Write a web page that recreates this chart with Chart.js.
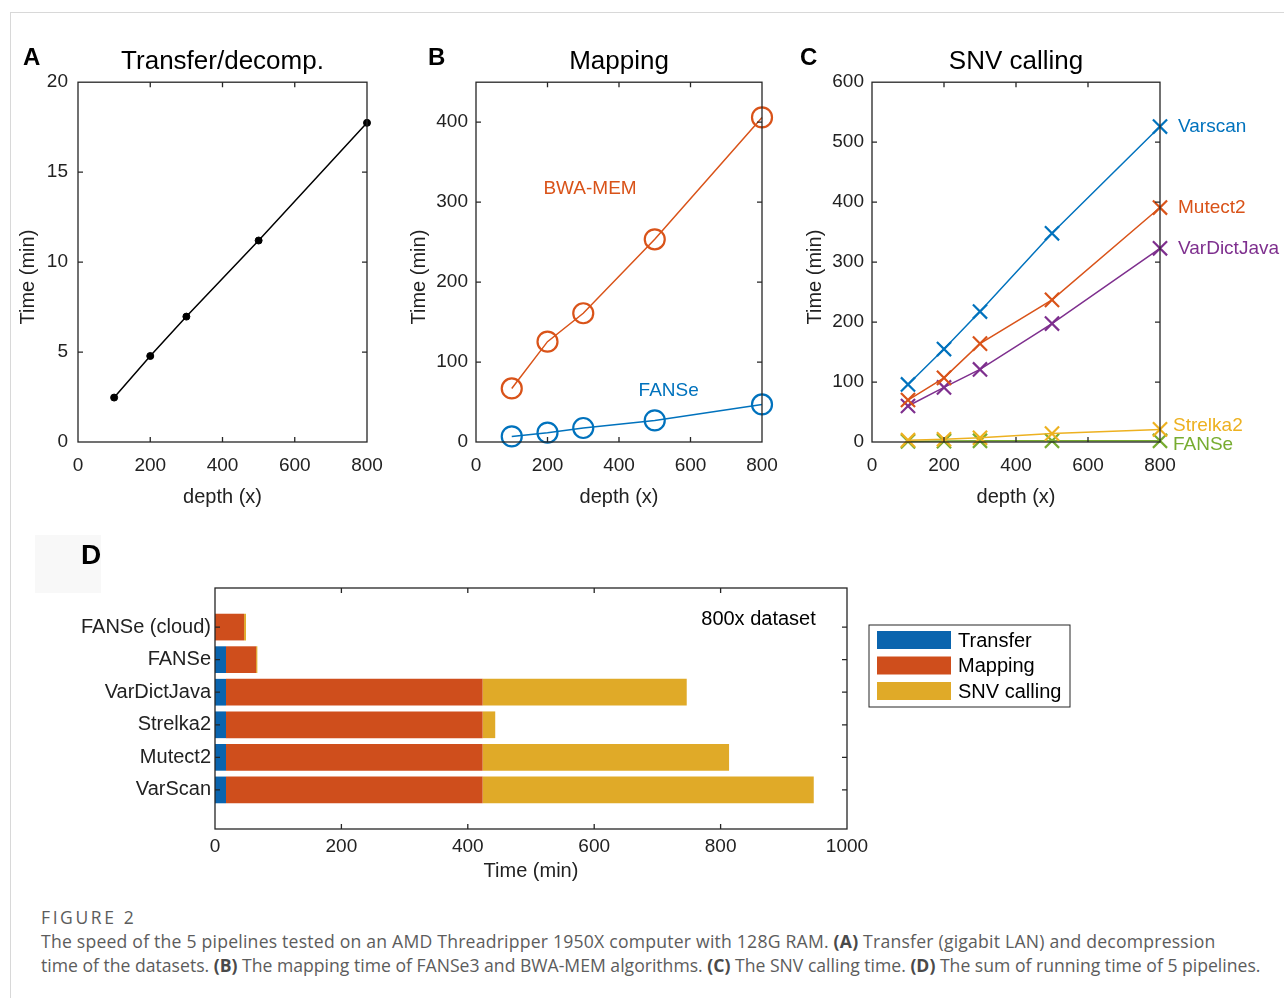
<!DOCTYPE html>
<html>
<head>
<meta charset="utf-8">
<script src="https://cdn.jsdelivr.net/npm/chart.js@4.4.1/dist/chart.umd.min.js"></script>
<style>
  html, body { margin: 0; padding: 0; background: #fff; }
  body { width: 1284px; height: 998px; position: relative; overflow: hidden; font-family: "Liberation Sans", Arial, sans-serif; }
  .frame { position: absolute; left: 10px; top: 12px; width: 1300px; height: 1000px; border-left: 1px solid #d8d8d8; border-top: 1px solid #d8d8d8; }
  .panel { position: absolute; }
  .letter { position: absolute; font-weight: bold; font-size: 24px; line-height: 1; color: #000; }
  .dbox { position: absolute; left: 35px; top: 535px; width: 66px; height: 58px; background: #f8f8f8; }
  .cap { position: absolute; left: 41px; font-family: "Open Sans", sans-serif; font-size: 17.6px; color: #5c5c5c; white-space: nowrap; line-height: 1; }
  .cap b { color: #4a4a4a; }
  .cap.head { font-size: 17.5px; letter-spacing: 2.6px; }
</style>
</head>
<body>
<div class="frame"></div>
<div class="dbox"></div>

<div class="panel" style="left:0px; top:30px; width:400px; height:500px;"><canvas id="chartA"></canvas></div>
<div class="panel" style="left:400px; top:30px; width:400px; height:500px;"><canvas id="chartB"></canvas></div>
<div class="panel" style="left:790px; top:30px; width:494px; height:500px;"><canvas id="chartC"></canvas></div>
<div class="panel" style="left:30px; top:540px; width:1060px; height:360px;"><canvas id="chartD"></canvas></div>

<div class="letter" style="left:23px; top:45px;">A</div>
<div class="letter" style="left:428px; top:45px;">B</div>
<div class="letter" style="left:800px; top:45px;">C</div>
<div class="letter" style="left:81px; top:541px; font-size:28px;">D</div>

<div class="cap head" style="top:909px;">FIGURE 2</div>
<div class="cap" style="top:933px; letter-spacing:0.22px;">The speed of the 5 pipelines tested on an AMD Threadripper 1950X computer with 128G RAM. <b>(A)</b> Transfer (gigabit LAN) and decompression</div>
<div class="cap" style="top:957px;">time of the datasets. <b>(B)</b> The mapping time of FANSe3 and BWA-MEM algorithms. <b>(C)</b> The SNV calling time. <b>(D)</b> The sum of running time of 5 pipelines.</div>

<script>
// depth of the test datasets (x)
const depths = [100, 200, 300, 500, 800];

// A: transfer + decompression (min)
const transferMin = [2.47, 4.78, 6.97, 11.2, 17.74];

// B: mapping (min)
const bwaMem = [67, 125.5, 161, 253.5, 406];
const fanseMap = [7, 11.7, 17.5, 27, 47];

// C: SNV calling (min)
const snvNames = ['Varscan', 'Mutect2', 'VarDictJava', 'Strelka2', 'FANSe'];
const varscan = [96, 155, 217.5, 348, 526];
const mutect2 = [70, 107, 164, 237, 391];
const varDictJava = [60, 91, 121, 197.5, 323];
const strelka2 = [3, 4.5, 7, 14, 21];
const fanseSnv = [1, 1.5, 2, 2, 2];
const snvLabelAt = [525, 391, 322, 27, -4];

// D: 800x dataset totals (min)
const pipelines = ['FANSe (cloud)', 'FANSe', 'VarDictJava', 'Strelka2', 'Mutect2', 'VarScan'];
const stageNames = ['Transfer', 'Mapping', 'SNV calling'];
const transferTime = [0, 17.4, 17.4, 17.4, 17.4, 17.4];
const mappingTime = [46, 47.6, 406, 406, 406, 406];
const snvTime = [3, 2, 323, 20, 390, 524];

const FONT = '"Liberation Sans", Arial, sans-serif';
const INK = '#222';
const BLUE = '#0072BD', ORANGE = '#D95319', YELLOW = '#EDB120', PURPLE = '#7E2F8E', GREEN = '#77AC30';

const pts = ys => depths.map((d, i) => ({ x: d, y: ys[i] }));

// matlab style box with inward ticks on all four sides
const boxFrame = {
  id: 'boxFrame',
  afterDraw(chart) {
    const { ctx, chartArea: a, scales } = chart;
    const len = 5;
    ctx.save();
    ctx.strokeStyle = '#262626';
    ctx.lineWidth = 1.3;
    ctx.strokeRect(a.left, a.top, a.right - a.left, a.bottom - a.top);
    ctx.beginPath();
    scales.x.ticks.forEach(t => {
      const px = scales.x.getPixelForValue(t.value);
      if (px <= a.left + 1 || px >= a.right - 1) return;
      ctx.moveTo(px, a.bottom); ctx.lineTo(px, a.bottom - len);
      ctx.moveTo(px, a.top); ctx.lineTo(px, a.top + len);
    });
    scales.y.ticks.forEach(t => {
      const py = scales.y.getPixelForValue(t.value);
      if (py <= a.top + 1 || py >= a.bottom - 1) return;
      ctx.moveTo(a.left, py); ctx.lineTo(a.left + len, py);
      ctx.moveTo(a.right, py); ctx.lineTo(a.right - len, py);
    });
    ctx.stroke();
    ctx.restore();
  }
};

// coloured text placed in data coordinates + the rotated y title
const seriesLabels = {
  id: 'seriesLabels',
  afterDatasetsDraw(chart, args, opts) {
    const { ctx, chartArea: a, scales: { x, y } } = chart;
    ctx.save();
    if (opts.yTitle) {
      ctx.font = '20px ' + FONT;
      ctx.fillStyle = INK;
      ctx.textAlign = 'center';
      ctx.textBaseline = 'middle';
      ctx.translate(opts.yTitleX, (a.top + a.bottom) / 2 + 15);
      ctx.rotate(-Math.PI / 2);
      ctx.fillText(opts.yTitle, 0, 0);
      ctx.setTransform(1, 0, 0, 1, 0, 0);
      ctx.scale(chart.currentDevicePixelRatio, chart.currentDevicePixelRatio);
    }
    ctx.font = opts.font;
    ctx.textBaseline = 'middle';
    (opts.items || []).forEach(it => {
      ctx.fillStyle = it.color;
      ctx.textAlign = it.align || 'left';
      ctx.fillText(it.text, x.getPixelForValue(it.x) + (it.dx || 0), y.getPixelForValue(it.y));
    });
    ctx.restore();
  }
};

function lineOptions(cfg) {
  return {
    responsive: true,
    maintainAspectRatio: false,
    animation: false,
    layout: { padding: { top: 0, right: cfg.padRight, bottom: 18, left: 0 } },
    plugins: {
      legend: { display: false },
      tooltip: { enabled: false },
      title: { display: true, text: cfg.title, fullSize: false, color: '#000', font: { family: FONT, size: 26, weight: 'normal' }, padding: { top: 16, bottom: 5 } },
      seriesLabels: { font: '19px ' + FONT, items: cfg.labels || [], yTitle: 'Time (min)', yTitleX: cfg.yTitleX }
    },
    scales: {
      x: {
        type: 'linear', min: 0, max: 800,
        grid: { display: false, drawTicks: false }, border: { display: false },
        ticks: { stepSize: 200, color: INK, font: { family: FONT, size: 19 }, padding: 12, maxRotation: 0 },
        title: { display: true, text: 'depth (x)', color: INK, font: { family: FONT, size: 20 }, padding: { top: 0, bottom: 3 } },
        afterFit: s => { s.height = 70; }
      },
      y: {
        type: 'linear', min: cfg.yMin, max: cfg.yMax,
        grid: { display: false, drawTicks: false }, border: { display: false },
        ticks: { stepSize: cfg.yStep, includeBounds: false, color: INK, font: { family: FONT, size: 19 }, padding: cfg.tickPad },
        afterFit: s => { s.width = cfg.axisWidth; }
      }
    }
  };
}

Chart.register(boxFrame, seriesLabels);

new Chart(document.getElementById('chartA'), {
  type: 'line',
  data: {
    datasets: [{
      data: pts(transferMin), borderColor: '#000', borderWidth: 1.5,
      pointRadius: 3.5, pointBackgroundColor: '#000', pointBorderColor: '#000', pointBorderWidth: 1, clip: false
    }]
  },
  options: lineOptions({ title: 'Transfer/decomp.', yMin: 0, yMax: 20, yStep: 5, axisWidth: 78, padRight: 33, tickPad: 10, yTitleX: 28 })
});

new Chart(document.getElementById('chartB'), {
  type: 'line',
  data: {
    datasets: [
      { data: pts(bwaMem), borderColor: ORANGE, borderWidth: 1.5, pointRadius: 10, pointBorderWidth: 2.2, pointBorderColor: ORANGE, pointBackgroundColor: 'rgba(0,0,0,0)', clip: false },
      { data: pts(fanseMap), borderColor: BLUE, borderWidth: 1.5, pointRadius: 10, pointBorderWidth: 2.2, pointBorderColor: BLUE, pointBackgroundColor: 'rgba(0,0,0,0)', clip: false }
    ]
  },
  options: lineOptions({
    title: 'Mapping', yMin: 0, yMax: 450, yStep: 100, axisWidth: 76, padRight: 38, tickPad: 8, yTitleX: 19,
    labels: [
      { text: 'BWA-MEM', x: 319, y: 317, color: ORANGE, align: 'center' },
      { text: 'FANSe', x: 539, y: 63.5, color: BLUE, align: 'center' }
    ]
  })
});

const snvSeries = [varscan, mutect2, varDictJava, strelka2, fanseSnv];
const snvColors = [BLUE, ORANGE, PURPLE, YELLOW, GREEN];
const snvDx = [18, 18, 18, 13, 13];

new Chart(document.getElementById('chartC'), {
  type: 'line',
  data: {
    datasets: snvSeries.map((s, k) => ({
      data: pts(s), borderColor: snvColors[k], borderWidth: 1.5,
      pointStyle: 'crossRot', pointRadius: 10, pointBorderWidth: 2.2, pointBorderColor: snvColors[k], clip: false
    }))
  },
  options: lineOptions({
    title: 'SNV calling', yMin: 0, yMax: 600, yStep: 100, axisWidth: 82, padRight: 124, tickPad: 8, yTitleX: 25,
    labels: snvNames.map((n, k) => ({ text: n, x: 800, dx: snvDx[k], y: snvLabelAt[k], color: snvColors[k] }))
  })
});

// D: legend with a box around it, drawn in the chart's canvas
const boxLegend = {
  id: 'boxLegend',
  afterDraw(chart, args, o) {
    if (!o.show) return;
    const { ctx, chartArea: a, scales: { x, y } } = chart;
    ctx.save();
    ctx.font = '20px ' + FONT;
    ctx.fillStyle = '#000';
    ctx.textBaseline = 'middle';
    ctx.textAlign = 'center';
    ctx.fillText(o.note, x.getPixelForValue(o.noteX), y.getPixelForValue(o.noteY));

    const left = a.right + 22, top = a.top + 37;
    ctx.strokeStyle = '#262626';
    ctx.lineWidth = 1;
    ctx.strokeRect(left, top, 201, 82);
    ctx.textAlign = 'left';
    chart.data.datasets.forEach((ds, i) => {
      const cy = top + 15 + i * 25.5;
      ctx.fillStyle = ds.backgroundColor;
      ctx.fillRect(left + 8, cy - 9, 74, 18);
      ctx.fillStyle = '#000';
      ctx.fillText(ds.label, left + 89, cy + 1);
    });
    ctx.restore();
  }
};

const stageTimes = [transferTime, mappingTime, snvTime];
const stageColors = ['#0A64AE', '#CF4E1C', '#E0AA28'];

new Chart(document.getElementById('chartD'), {
  type: 'bar',
  plugins: [boxLegend],
  data: {
    datasets: stageNames.map((name, k) => ({
      label: name,
      data: stageTimes[k].map((v, i) => ({ x: v, y: i })),
      backgroundColor: stageColors[k],
      barPercentage: 0.82,
      categoryPercentage: 1
    }))
  },
  options: {
    indexAxis: 'y',
    responsive: true,
    maintainAspectRatio: false,
    animation: false,
    layout: { padding: { top: 48, right: 243, bottom: 11, left: 0 } },
    plugins: {
      legend: { display: false },
      tooltip: { enabled: false },
      seriesLabels: { items: [] },
      boxLegend: { show: true, note: '800x dataset', noteX: 860, noteY: -0.22 }
    },
    scales: {
      x: {
        type: 'linear', stacked: true, min: 0, max: 1000,
        grid: { display: false, drawTicks: false }, border: { display: false },
        ticks: { stepSize: 200, color: INK, font: { family: FONT, size: 19 }, padding: 6, maxRotation: 0, callback: v => String(v) },
        title: { display: true, text: 'Time (min)', color: INK, font: { family: FONT, size: 20 }, padding: { top: 0, bottom: 6 } },
        afterFit: s => { s.height = 60; }
      },
      y: {
        type: 'linear', stacked: true, reverse: true, offset: false, bounds: 'data', min: -1.2, max: 6.2,
        grid: { display: false, drawTicks: false, offset: false }, border: { display: false },
        afterBuildTicks: s => { s.ticks = pipelines.map((_, i) => ({ value: i })); },
        ticks: { color: INK, font: { family: FONT, size: 20 }, padding: 4, callback: v => pipelines[v] },
        afterFit: s => { s.width = 185; }
      }
    }
  }
});
</script>
</body>
</html>
